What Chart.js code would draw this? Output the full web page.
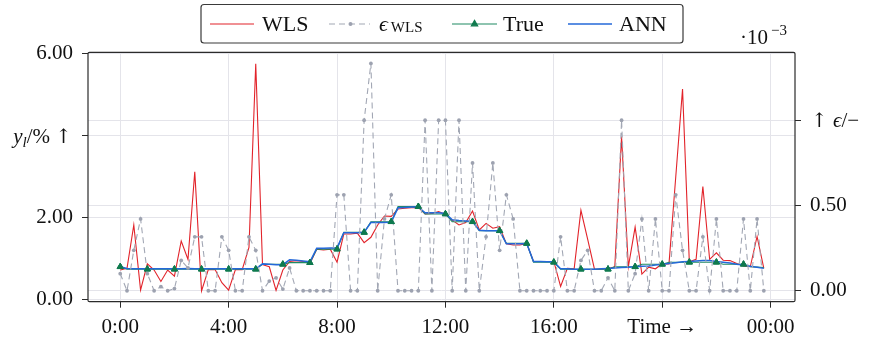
<!DOCTYPE html>
<html>
<head>
<meta charset="utf-8">
<script src="https://cdn.jsdelivr.net/npm/chart.js@4.4.1/dist/chart.umd.min.js"></script>
<style>
  html, body { margin: 0; padding: 0; background: #fff; }
  #wrap { width: 871px; height: 339px; position: relative; }
</style>
</head>
<body>
<div id="wrap"><canvas id="c" width="871" height="339"></canvas></div>
<script>
// 15-minute sampling grid over one day (hours)
const hours = Array.from({ length: 96 }, (_, i) => i / 4);

// Weighted least squares estimate (%)
const wls = [
  0.72, 0.76, 1.82, 0.23, 0.87, 0.72, 0.44, 0.72, 0.57, 1.43, 0.98, 3.12,
  0.21, 0.73, 0.73, 0.41, 0.23, 0.73, 0.73, 1.27, 5.76, 0.85, 0.80, 0.22,
  0.72, 0.93, 0.95, 0.93, 0.88, 1.23, 1.21, 1.23, 0.91, 1.60, 1.60, 1.62,
  1.39, 1.52, 1.82, 2.04, 2.03, 2.21, 2.23, 2.24, 2.25, 2.09, 2.10, 2.15,
  2.08, 1.94, 1.82, 1.88, 2.16, 1.70, 1.86, 1.74, 1.78, 1.36, 1.33, 1.33,
  1.37, 0.93, 0.93, 0.93, 0.93, 0.32, 0.76, 0.75, 2.18, 1.47, 0.74, 0.74,
  0.75, 0.80, 3.98, 0.80, 1.77, 0.62, 0.79, 0.75, 0.87, 0.87, 3.00, 5.14,
  0.92, 0.98, 2.76, 0.98, 1.14, 0.96, 0.95, 0.88, 0.82, 0.80, 1.54, 0.76
];

// WLS estimation error (x 1e-3)
const epsWls = [
  0.100, 0, 0.237, 0.421, 0.100, 0, 0.024, 0, 0.013, 0.178, 0.134, 0.316,
  0.316, 0, 0, 0.316, 0.237, 0, 0, 0.316, 0.237, 0, 0.057, 0.076,
  0.010, 0.134, 0, 0, 0, 0, 0, 0, 0.562, 0.562, 0, 0,
  0.999, 1.332, 0, 0.421, 0.562, 0, 0, 0, 0, 0.999, 0, 0.999,
  0.999, 0, 0.999, 0, 0.749, 0, 0.316, 0.749, 0.237, 0.562, 0.421, 0,
  0, 0, 0, 0, 0, 0.316, 0, 0, 0.178, 0.237, 0, 0,
  0.076, 0, 0.999, 0, 0.100, 0.421, 0, 0.421, 0, 0, 0.562, 0.237,
  0, 0, 0.316, 0, 0.421, 0, 0, 0, 0.421, 0, 0.421, 0
];

// Reference load level (%)
const trueLoad = [
  0.80, 0.74, 0.74, 0.74, 0.74, 0.74, 0.74, 0.74, 0.74, 0.74, 0.74, 0.74,
  0.74, 0.74, 0.74, 0.74, 0.74, 0.74, 0.74, 0.74, 0.74, 0.86, 0.86, 0.86,
  0.86, 0.90, 0.90, 0.90, 0.90, 1.23, 1.23, 1.23, 1.23, 1.64, 1.64, 1.64,
  1.64, 1.90, 1.90, 1.90, 1.90, 2.27, 2.27, 2.27, 2.27, 2.09, 2.09, 2.09,
  2.09, 1.90, 1.90, 1.90, 1.90, 1.68, 1.68, 1.68, 1.68, 1.37, 1.37, 1.37,
  1.37, 0.91, 0.91, 0.91, 0.91, 0.74, 0.74, 0.74, 0.74, 0.74, 0.74, 0.74,
  0.74, 0.80, 0.80, 0.80, 0.80, 0.86, 0.86, 0.86, 0.86, 0.91, 0.91, 0.91,
  0.91, 0.91, 0.91, 0.91, 0.91, 0.86, 0.86, 0.86, 0.86, 0.80, 0.79, 0.78
];

// Neural network estimate (%)
const ann = [
  0.80, 0.76, 0.75, 0.75, 0.75, 0.75, 0.75, 0.75, 0.75, 0.75, 0.76, 0.75,
  0.75, 0.75, 0.75, 0.75, 0.75, 0.75, 0.75, 0.75, 0.75, 0.87, 0.86, 0.85,
  0.85, 0.97, 0.96, 0.94, 0.92, 1.25, 1.25, 1.26, 1.26, 1.63, 1.63, 1.63,
  1.64, 1.88, 1.88, 1.88, 1.89, 2.24, 2.25, 2.26, 2.26, 2.12, 2.12, 2.12,
  2.10, 1.95, 1.93, 1.92, 1.91, 1.69, 1.68, 1.68, 1.68, 1.36, 1.36, 1.36,
  1.37, 0.93, 0.93, 0.92, 0.92, 0.75, 0.75, 0.74, 0.74, 0.74, 0.74, 0.75,
  0.76, 0.77, 0.78, 0.79, 0.80, 0.81, 0.82, 0.84, 0.86, 0.88, 0.90, 0.92,
  0.93, 0.94, 0.95, 0.95, 0.93, 0.91, 0.89, 0.86, 0.84, 0.81, 0.79, 0.76
];

const xTicks = [0, 4, 8, 12, 16, 20, 24];
const xTickLabels = ['0:00', '4:00', '8:00', '12:00', '16:00', 'Time \u2192', '00:00'];
const yLeftTicks = [0, 2, 4, 6];
const yLeftTickLabels = ['0.00', '2.00', '', '6.00'];
const yRightTicks = [0, 0.5, 1];
const yRightTickLabels = ['0.00', '0.50', ''];

const SERIF = '"Liberation Serif", "DejaVu Serif", serif';
const ARROW = '"DejaVu Serif", serif';
const INK = '#111111';
const GRID = '#e4e4ea';
const FRAME = '#2b2b2b';

const pts = (vals) => vals.map((v, i) => ({ x: hours[i], y: v }));

// writes a run of text pieces, each with its own font and vertical shift
function drawRun(ctx, parts, x, y, alignRight) {
  let w = 0;
  parts.forEach(p => { ctx.font = p.f; p.w = ctx.measureText(p.t).width; w += p.w; });
  let cx = alignRight ? x - w : x;
  parts.forEach(p => { ctx.font = p.f; ctx.fillText(p.t, cx, y + (p.dy || 0)); cx += p.w; });
}

// Frame, axis captions, exponent and the boxed legend
const decorations = {
  id: 'decorations',
  afterDatasetsDraw(chart) {
    const ctx = chart.ctx;
    // True markers on top of all lines
    const meta = chart.getDatasetMeta(2);
    meta.data.forEach((el, i) => { if (i % 4 === 0) el.draw(ctx, chart.chartArea); });
  },
  afterDraw(chart) {
    const ctx = chart.ctx;
    const a = chart.chartArea;
    const yL = chart.scales.yL, yR = chart.scales.yR;
    ctx.save();
    // plot frame
    ctx.strokeStyle = FRAME;
    ctx.lineWidth = 1.2;
    ctx.beginPath();
    ctx.roundRect(a.left, a.top, a.right - a.left, a.bottom - a.top, 1.5);
    ctx.stroke();

    ctx.fillStyle = INK;
    ctx.textBaseline = 'alphabetic';

    // left caption  y_l/% ↑  at the 4.00 tick
    drawRun(ctx, [
      { t: 'y', f: 'italic 21px ' + SERIF },
      { t: 'l', f: 'italic 15px ' + SERIF, dy: 4 },
      { t: '/% ', f: '21px ' + SERIF },
      { t: '\u2191', f: '20px ' + ARROW }
    ], 72, yL.getPixelForValue(4) + 7, true);

    // right caption  ↑ ϵ/−  at the 1.00 tick
    drawRun(ctx, [
      { t: '\u2191', f: '20px ' + ARROW },
      { t: ' ', f: '21px ' + SERIF },
      { t: '\u03F5', f: 'italic 21px ' + SERIF },
      { t: '/\u2212', f: '21px ' + SERIF }
    ], 811, yR.getPixelForValue(1) + 7, false);

    // exponent of the right axis
    drawRun(ctx, [
      { t: '\u00B710', f: '21px ' + SERIF },
      { t: '\u2009\u22123', f: '15px ' + SERIF, dy: -9 }
    ], 787, 44, true);

    // legend box
    ctx.fillStyle = '#ffffff';
    ctx.strokeStyle = '#3a3a3a';
    ctx.lineWidth = 1.2;
    ctx.beginPath();
    ctx.roundRect(201, 4.5, 482, 38.5, 3);
    ctx.fill();
    ctx.stroke();

    const ds = chart.data.datasets;
    const ly = 24;
    const sample = (d, x0, x1) => {
      ctx.save();
      ctx.strokeStyle = d.borderColor;
      ctx.lineWidth = d.borderWidth;
      ctx.setLineDash(d.borderDash || []);
      ctx.beginPath();
      ctx.moveTo(x0, ly);
      ctx.lineTo(x1, ly);
      ctx.stroke();
      ctx.restore();
    };
    sample(ds[0], 210, 254);
    sample(ds[1], 329, 370);
    sample(ds[2], 452, 497);
    sample(ds[3], 568, 612);

    // legend markers
    ctx.fillStyle = ds[1].pointBackgroundColor;
    ctx.beginPath(); ctx.arc(350.5, ly, 2, 0, Math.PI * 2); ctx.fill();
    ctx.fillStyle = ds[2].pointBackgroundColor;
    ctx.strokeStyle = ds[2].pointBorderColor;
    Chart.helpers.drawPoint(ctx, { pointStyle: 'triangle', radius: 3.6, borderWidth: 1, rotation: 0 }, 474.5, ly);

    ctx.fillStyle = INK;
    ctx.font = '22px ' + SERIF;
    ctx.fillText('WLS', 262, 31);
    ctx.fillText('True', 503, 31);
    ctx.fillText('ANN', 619, 31);
    drawRun(ctx, [
      { t: '\u03F5', f: 'italic 22px ' + SERIF },
      { t: '\u2009WLS', f: '15px ' + SERIF, dy: 1 }
    ], 379, 31, false);
    ctx.restore();
  }
};

const tickFont = { family: SERIF, size: 21 };

new Chart(document.getElementById('c'), {
  type: 'line',
  data: {
    datasets: [
      {
        label: 'WLS', data: pts(wls), yAxisID: 'yL',
        borderColor: '#e2232a', borderWidth: 1.1, pointRadius: 0, order: 3
      },
      {
        label: 'epsWLS', data: pts(epsWls), yAxisID: 'yR',
        borderColor: '#a2a7b4', borderWidth: 1.1, borderDash: [6, 4],
        pointRadius: 1.9, pointBackgroundColor: '#9da2b0', pointBorderWidth: 0, order: 0
      },
      {
        label: 'True', data: pts(trueLoad), yAxisID: 'yL',
        borderColor: '#1f8a62', borderWidth: 1.1,
        pointStyle: 'triangle',
        pointRadius: (c) => (c.dataIndex % 4 === 0 ? 3.6 : 0),
        pointBackgroundColor: '#0f7a4e', pointBorderColor: '#0f7a4e', pointBorderWidth: 1,
        order: 2
      },
      {
        label: 'ANN', data: pts(ann), yAxisID: 'yL',
        borderColor: '#2468d8', borderWidth: 1.5, pointRadius: 0, order: 1
      }
    ]
  },
  options: {
    responsive: false,
    animation: false,
    devicePixelRatio: 1,
    events: [],
    layout: { padding: { top: 52.3, left: 0, right: 0, bottom: 0 } },
    plugins: { legend: { display: false }, tooltip: { enabled: false } },
    scales: {
      x: {
        type: 'linear', min: -1.19, max: 24.9,
        afterBuildTicks: (s) => { s.ticks = xTicks.map(v => ({ value: v })); },
        afterFit: (s) => { s.height = 37.3; },
        ticks: {
          callback: (v) => xTickLabels[xTicks.indexOf(v)],
          font: tickFont, color: INK, padding: 7, maxRotation: 0, autoSkip: false
        },
        grid: { color: GRID, lineWidth: 1, tickLength: 6, tickColor: FRAME, tickWidth: 1 },
        border: { display: false }
      },
      yL: {
        type: 'linear', position: 'left', min: -0.054, max: 6.04,
        afterBuildTicks: (s) => { s.ticks = yLeftTicks.map(v => ({ value: v })); },
        afterFit: (s) => { s.width = 88; },
        ticks: {
          callback: (v) => yLeftTickLabels[yLeftTicks.indexOf(v)],
          font: tickFont, color: INK, padding: 9
        },
        grid: { color: GRID, lineWidth: 1, tickLength: 6, tickColor: FRAME, tickWidth: 1 },
        border: { display: false }
      },
      yR: {
        type: 'linear', position: 'right', min: -0.064, max: 1.397,
        afterBuildTicks: (s) => { s.ticks = yRightTicks.map(v => ({ value: v })); },
        afterFit: (s) => { s.width = 76; },
        ticks: {
          callback: (v) => yRightTickLabels[yRightTicks.indexOf(v)],
          font: tickFont, color: INK, padding: 9
        },
        grid: { color: GRID, lineWidth: 1, tickLength: 6, tickColor: FRAME, tickWidth: 1 },
        border: { display: false }
      }
    }
  },
  plugins: [decorations]
});
</script>
</body>
</html>
